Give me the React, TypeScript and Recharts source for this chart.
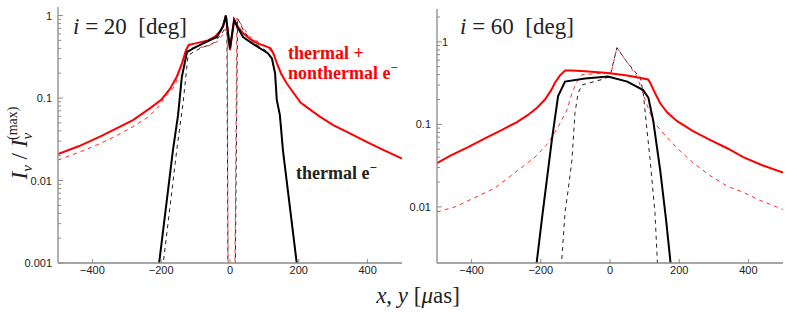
import React from 'react';
import { LineChart, Line, XAxis, YAxis } from 'recharts';

// ---------- tick labels ----------
const xTickValues = [-400, -200, 0, 200, 400];
const xTickLabels = ['\u2212400', '\u2212200', '0', '200', '400'];
const leftDecades = [0.001, 0.01, 0.1, 1];
const leftDecadeLabels = ['0.001', '0.01', '0.1', '1'];
const rightDecades = [0.01, 0.1, 1];
const rightDecadeLabels = ['0.01', '0.1', '1'];
const minorMultipliers = [2, 3, 4, 5, 6, 7, 8, 9];

// ---------- left panel (i = 20 deg) ----------
const leftRedSolidX = [-500, -440, -378, -330, -282, -233, -200, -174, -155, -140, -128, -120, -100, -64, -45, -29, -20, -12, 0, 12, 22, 40, 58, 80, 107, 118, 127, 137, 148, 165, 185, 205, 230, 260, 300, 350, 400, 450, 500];
const leftRedSolidY = [0.021, 0.026, 0.034, 0.043, 0.054, 0.075, 0.095, 0.13, 0.18, 0.26, 0.38, 0.44, 0.46, 0.5, 0.55, 0.64, 0.74, 1.0, 0.38, 0.9, 0.74, 0.6, 0.52, 0.46, 0.42, 0.4, 0.34, 0.26, 0.2, 0.15, 0.115, 0.088, 0.074, 0.06, 0.047, 0.037, 0.029, 0.023, 0.0185];

const leftRedDashX = [-500, -427, -378, -330, -282, -240, -212, -183, -160, -140, -125, -116, -67, -38, -15, -8, -3, 9, 20, 40, 58, 96, 110, 127, 137, 148, 165, 185, 205, 230, 260, 300, 350, 400, 450, 500];
const leftRedDashY = [0.0177, 0.023, 0.028, 0.035, 0.045, 0.058, 0.075, 0.11, 0.14, 0.27, 0.37, 0.4, 0.42, 0.48, 0.63, 0.75, 0.000001, 0.000001, 0.93, 0.7, 0.55, 0.44, 0.41, 0.34, 0.26, 0.2, 0.15, 0.115, 0.088, 0.074, 0.06, 0.047, 0.037, 0.029, 0.023, 0.0185];

const leftBlackSolidX = [-212, -206, -166, -151, -140, -125, -107, -78, -38, -29, -20, -12, 0, 12, 22, 38, 58, 96, 110, 122, 131, 136, 145, 154, 194, 200];
const leftBlackSolidY = [0.0007, 0.001, 0.023, 0.062, 0.18, 0.36, 0.4, 0.46, 0.55, 0.64, 0.75, 1.0, 0.4, 0.88, 0.72, 0.55, 0.48, 0.38, 0.35, 0.3, 0.2, 0.095, 0.062, 0.023, 0.001, 0.0007];

const leftBlackDashX = [-200, -194, -155, -136, -122, -87, -49, -23, -9, -3, 9, 22, 40, 67, 107, 122, 131, 136, 145, 154, 194, 200];
const leftBlackDashY = [0.0007, 0.001, 0.023, 0.09, 0.33, 0.4, 0.46, 0.61, 0.77, 0.000001, 0.000001, 0.93, 0.65, 0.47, 0.37, 0.3, 0.2, 0.095, 0.062, 0.023, 0.001, 0.0007];

// ---------- right panel (i = 60 deg) ----------
const rightRedSolidX = [-500, -460, -410, -360, -312, -270, -237, -210, -188, -170, -159, -145, -130, -110, -72, -6, 50, 96, 110, 116, 130, 145, 165, 193, 240, 289, 340, 385, 440, 500];
const rightRedSolidY = [0.034, 0.042, 0.053, 0.068, 0.086, 0.106, 0.13, 0.16, 0.2, 0.26, 0.32, 0.39, 0.45, 0.45, 0.44, 0.42, 0.39, 0.36, 0.35, 0.32, 0.24, 0.18, 0.14, 0.11, 0.083, 0.065, 0.051, 0.04, 0.032, 0.026];

const rightRedDashX = [-500, -448, -390, -332, -275, -217, -179, -150, -124, -110, -95, -81, -43, -6, 5, 20, 45, 75, 87, 105, 125, 145, 170, 193, 241, 289, 337, 385, 433, 482, 500];
const rightRedDashY = [0.0087, 0.01, 0.013, 0.017, 0.026, 0.04, 0.059, 0.093, 0.15, 0.24, 0.33, 0.4, 0.41, 0.42, 0.45, 0.85, 0.6, 0.4, 0.3, 0.18, 0.11, 0.086, 0.066, 0.052, 0.034, 0.024, 0.018, 0.015, 0.012, 0.01, 0.0093];

const rightBlackSolidX = [-220, -212, -197, -168, -150, -130, -72, -6, 50, 96, 111, 125, 145, 162, 175, 180];
const rightBlackSolidY = [0.0015, 0.0021, 0.007, 0.065, 0.22, 0.33, 0.36, 0.38, 0.33, 0.26, 0.21, 0.11, 0.028, 0.007, 0.0021, 0.0015];

const rightBlackDashX = [-145, -140, -130, -121, -110, -101, -92, -81, -23, 0, 20, 45, 75, 87, 96, 106, 116, 130, 137, 142];
const rightBlackDashY = [0.0015, 0.0021, 0.0085, 0.016, 0.037, 0.14, 0.24, 0.3, 0.35, 0.38, 0.85, 0.6, 0.42, 0.38, 0.24, 0.093, 0.037, 0.0085, 0.0021, 0.0015];

// ---------- helpers ----------
const toPoints = (xs: number[], ys: number[]) => xs.map((x, i) => ({ x, y: ys[i] }));
const withMinor = (decades: number[], maxVal: number) => {
  const out: number[] = [];
  decades.forEach((d) => {
    out.push(d);
    minorMultipliers.forEach((m) => {
      const v = d * m;
      if (v <= maxVal) out.push(v);
    });
  });
  return out.sort((a, b) => a - b);
};

const AXIS = '#8a8a8a';
const LABEL = '#222';
const SANS = '"Liberation Sans", Arial, sans-serif';
const SERIF = '"Liberation Serif", "Times New Roman", serif';

const makeYTick = (decades: number[], labels: string[], side: 'left' | 'right', insideOne: boolean) => (props: any) => {
  const { x, y, payload } = props;
  const idx = decades.indexOf(payload.value);
  const major = idx >= 0;
  const len = major ? 5 : 3;
  const dir = side === 'left' ? 1 : -1;
  let label: React.ReactNode = null;
  if (side === 'left' && major) {
    const lab = labels[idx];
    if (insideOne && lab === '1') {
      label = (
        <text x={x + 5} y={y} dy={4} textAnchor="start" fontSize={11} fontFamily={SANS} fill={LABEL}>
          {lab}
        </text>
      );
    } else {
      label = (
        <text x={x - 6} y={y} dy={4} textAnchor="end" fontSize={11} fontFamily={SANS} fill={LABEL}>
          {lab}
        </text>
      );
    }
  }
  return (
    <g>
      <line x1={x} x2={x + dir * len} y1={y} y2={y} stroke={AXIS} strokeWidth={1} />
      {label}
    </g>
  );
};

const makeXTick = (side: 'bottom' | 'top') => (props: any) => {
  const { x, y, payload } = props;
  const idx = xTickValues.indexOf(payload.value);
  const dir = side === 'bottom' ? -1 : 1;
  return (
    <g>
      <line x1={x} x2={x} y1={y} y2={y + dir * 4} stroke={AXIS} strokeWidth={1} />
      {side === 'bottom' && idx >= 0 ? (
        <text x={x} y={y + 11} textAnchor="middle" fontSize={11} fontFamily={SANS} fill={LABEL}>
          {xTickLabels[idx]}
        </text>
      ) : null}
    </g>
  );
};

type PanelProps = {
  left: number;
  width: number;
  margin: { top: number; right: number; bottom: number; left: number };
  yAxisWidth: number;
  domain: [number, number];
  decades: number[];
  decadeLabels: string[];
  insideOne: boolean;
  redSolid: { x: number; y: number }[];
  redDash: { x: number; y: number }[];
  blackSolid: { x: number; y: number }[];
  blackDash: { x: number; y: number }[];
};

const Panel = (p: PanelProps) => {
  const yTicks = withMinor(p.decades, p.domain[1]);
  const axisLine = { stroke: AXIS, strokeWidth: 1.3 };
  return (
    <div style={{ position: 'absolute', left: p.left, top: 0 }}>
      <LineChart width={p.width} height={314} margin={p.margin}>
        <XAxis
          xAxisId="b"
          dataKey="x"
          type="number"
          domain={[-500, 500]}
          ticks={xTickValues}
          allowDataOverflow
          height={51}
          tickSize={0}
          tickMargin={0}
          tickLine={false}
          axisLine={axisLine}
          tick={makeXTick('bottom')}
          interval={0}
        />
        <XAxis
          xAxisId="t"
          orientation="top"
          dataKey="x"
          type="number"
          domain={[-500, 500]}
          ticks={xTickValues}
          allowDataOverflow
          height={0}
          tickSize={0}
          tickMargin={0}
          tickLine={false}
          axisLine={axisLine}
          tick={makeXTick('top')}
          interval={0}
        />
        <YAxis
          yAxisId="l"
          scale="log"
          type="number"
          domain={p.domain}
          ticks={yTicks}
          allowDataOverflow
          width={p.yAxisWidth}
          tickSize={0}
          tickMargin={0}
          tickLine={false}
          axisLine={axisLine}
          tick={makeYTick(p.decades, p.decadeLabels, 'left', p.insideOne)}
          interval={0}
        />
        <YAxis
          yAxisId="r"
          orientation="right"
          scale="log"
          type="number"
          domain={p.domain}
          ticks={yTicks}
          allowDataOverflow
          width={0}
          tickSize={0}
          tickMargin={0}
          tickLine={false}
          axisLine={axisLine}
          tick={makeYTick(p.decades, p.decadeLabels, 'right', false)}
          interval={0}
        />
        <Line xAxisId="b" yAxisId="l" data={p.redDash} dataKey="y" type="linear" stroke="#ff2a2a" strokeWidth={1} strokeDasharray="4 4" dot={false} isAnimationActive={false} />
        <Line xAxisId="b" yAxisId="l" data={p.blackDash} dataKey="y" type="linear" stroke="#222" strokeWidth={1} strokeDasharray="4 4" dot={false} isAnimationActive={false} />
        <Line xAxisId="b" yAxisId="l" data={p.redSolid} dataKey="y" type="linear" stroke="#ff0000" strokeWidth={2} dot={false} isAnimationActive={false} />
        <Line xAxisId="b" yAxisId="l" data={p.blackSolid} dataKey="y" type="linear" stroke="#000" strokeWidth={2} dot={false} isAnimationActive={false} />
      </LineChart>
    </div>
  );
};

export default function App() {
  return (
    <div style={{ position: 'absolute', left: 0, top: 0, width: 797, height: 314, background: '#fff', overflow: 'hidden' }}>
      <Panel
        left={0}
        width={410}
        margin={{ top: 7, right: 8, bottom: 0, left: 0 }}
        yAxisWidth={58}
        domain={[0.001, 1.27]}
        decades={leftDecades}
        decadeLabels={leftDecadeLabels}
        insideOne={false}
        redSolid={toPoints(leftRedSolidX, leftRedSolidY)}
        redDash={toPoints(leftRedDashX, leftRedDashY)}
        blackSolid={toPoints(leftBlackSolidX, leftBlackSolidY)}
        blackDash={toPoints(leftBlackDashX, leftBlackDashY)}
      />
      <Panel
        left={400}
        width={397}
        margin={{ top: 9, right: 14, bottom: 0, left: 0 }}
        yAxisWidth={37}
        domain={[0.00209, 2.5]}
        decades={rightDecades}
        decadeLabels={rightDecadeLabels}
        insideOne={true}
        redSolid={toPoints(rightRedSolidX, rightRedSolidY)}
        redDash={toPoints(rightRedDashX, rightRedDashY)}
        blackSolid={toPoints(rightBlackSolidX, rightBlackSolidY)}
        blackDash={toPoints(rightBlackDashX, rightBlackDashY)}
      />
      <svg width={797} height={314} style={{ position: 'absolute', left: 0, top: 0, pointerEvents: 'none' }}>
        {/* y axis label */}
        <text transform="translate(27,143) rotate(-90)" textAnchor="middle" fontFamily={SERIF} fontSize={23} fill={LABEL}>
          <tspan fontStyle="italic">I</tspan>
          <tspan fontStyle="italic" fontSize={15} dy={5}>ν</tspan>
          <tspan dy={-5}> / </tspan>
          <tspan fontStyle="italic">I</tspan>
          <tspan fontStyle="italic" fontSize={15} dy={5}>ν</tspan>
          <tspan fontSize={14} dy={-15} dx={-7}>(max)</tspan>
        </text>
        {/* x axis label */}
        <text x={418} y={303} textAnchor="middle" fontFamily={SERIF} fontSize={23} fill={LABEL}>
          <tspan fontStyle="italic">x</tspan>
          <tspan>, </tspan>
          <tspan fontStyle="italic">y</tspan>
          <tspan>  [</tspan>
          <tspan fontStyle="italic">μ</tspan>
          <tspan>as]</tspan>
        </text>
        {/* panel titles */}
        <text x={73} y={34} fontFamily={SERIF} fontSize={23} fill={LABEL} xmlSpace="preserve">
          <tspan fontStyle="italic">i</tspan>
          <tspan> = 20  [deg]</tspan>
        </text>
        <text x={460} y={34} fontFamily={SERIF} fontSize={23} fill={LABEL} xmlSpace="preserve">
          <tspan fontStyle="italic">i</tspan>
          <tspan> = 60  [deg]</tspan>
        </text>
        {/* annotations */}
        <text x={288} y={59} fontFamily={SERIF} fontWeight="bold" fontSize={18} fill="#ff0000">thermal +</text>
        <text x={288} y={79} fontFamily={SERIF} fontWeight="bold" fontSize={18} fill="#ff0000">
          nonthermal e<tspan fontSize={13} dy={-7}>−</tspan>
        </text>
        <text x={296} y={179} fontFamily={SERIF} fontWeight="bold" fontSize={18} fill="#222">
          thermal e<tspan fontSize={13} dy={-7}>−</tspan>
        </text>
      </svg>
    </div>
  );
}
